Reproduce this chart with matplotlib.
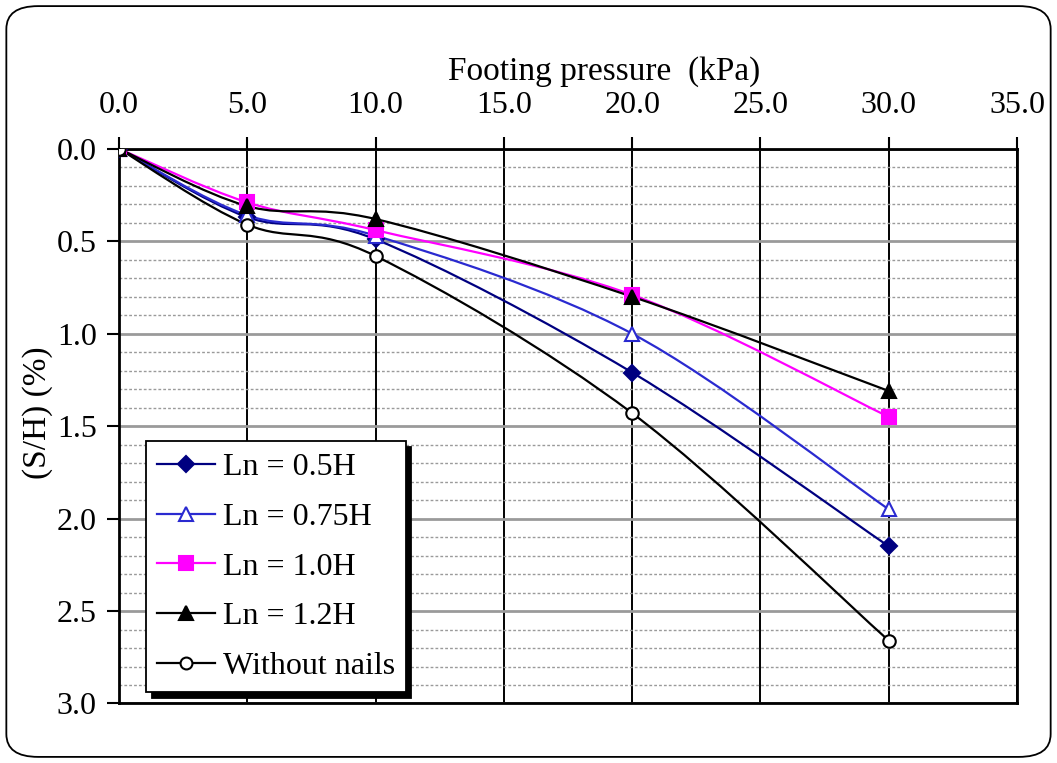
import matplotlib
matplotlib.use('Agg')
import matplotlib.pyplot as plt
import numpy as np
from matplotlib.path import Path
from matplotlib.patches import PathPatch, FancyBboxPatch
from matplotlib.lines import Line2D
from matplotlib.ticker import MultipleLocator, FormatStrFormatter

plt.rcParams['font.family'] = ['Liberation Serif', 'DejaVu Serif']

# footing pressure (kPa)
pressure = [0, 5, 10, 20, 30]
# settlement ratio S/H (%)
ln_05 = [0, 0.37, 0.49, 1.21, 2.15]
ln_075 = [0, 0.36, 0.47, 1.00, 1.95]
ln_10 = [0, 0.29, 0.44, 0.79, 1.45]
ln_12 = [0, 0.31, 0.38, 0.80, 1.31]
no_nails = [0, 0.41, 0.58, 1.43, 2.66]

labels = ['Ln = 0.5H', 'Ln = 0.75H', 'Ln = 1.0H', 'Ln = 1.2H', 'Without nails']
series = [ln_05, ln_075, ln_10, ln_12, no_nails]
colors = ['#000080', '#2a2ad0', '#ff00ff', 'black', 'black']
markers = ['D', '^', 's', '^', 'o']
mfc = ['#000080', 'white', '#ff00ff', 'black', 'white']
msize = [8.5, 10, 10, 10, 9]


def smooth_path(x, y):
    # excel-like smoothed line: cubic bezier through the points
    p = np.column_stack([x, y]).astype(float)
    pts = np.vstack([p[0], p, p[-1]])
    verts = [tuple(p[0])]
    codes = [Path.MOVETO]
    for i in range(1, len(pts) - 2):
        p0, p1, p2, p3 = pts[i - 1], pts[i], pts[i + 1], pts[i + 2]
        c1 = p1 + (p2 - p0) / 6
        c2 = p2 - (p3 - p1) / 6
        verts += [tuple(c1), tuple(c2), tuple(p2)]
        codes += [Path.CURVE4] * 3
    return Path(verts, codes)


fig = plt.figure(figsize=(10.57, 7.63), dpi=100)
ax = fig.add_axes([0.1126, 0.078, 0.8496, 0.727])

# rounded frame round the whole chart
fig.patches.append(FancyBboxPatch((0.006, 0.008), 0.988, 0.984,
                                  boxstyle='round,pad=0,rounding_size=0.03',
                                  transform=fig.transFigure, fill=False,
                                  edgecolor='black', linewidth=1.3))

ax.set_xlim(0, 35)
ax.set_ylim(3.0, 0)
ax.xaxis.set_major_locator(MultipleLocator(5))
ax.yaxis.set_major_locator(MultipleLocator(0.5))
ax.yaxis.set_minor_locator(MultipleLocator(0.1))
ax.xaxis.set_major_formatter(FormatStrFormatter('%.1f'))
ax.yaxis.set_major_formatter(FormatStrFormatter('%.1f'))
ax.xaxis.tick_top()
ax.xaxis.set_label_position('top')
ax.tick_params(axis='both', which='major', labelsize=23, direction='out',
               length=9, width=1.5)
ax.tick_params(axis='x', which='major', pad=12)
ax.tick_params(axis='y', which='major', pad=7)
ax.tick_params(axis='y', which='minor', length=0)

ax.grid(True, axis='x', which='major', color='black', linewidth=1.4)
ax.grid(True, axis='y', which='major', color='#9a9a9a', linewidth=2)
ax.grid(True, axis='y', which='minor', color='#9a9a9a', linewidth=1, linestyle=(0, (2, 1.5)))
ax.set_axisbelow(True)
for s in ax.spines.values():
    s.set_linewidth(2)

for vals, c, m, fc, ms in zip(series, colors, markers, mfc, msize):
    ax.add_patch(PathPatch(smooth_path(pressure, vals), facecolor='none',
                           edgecolor=c, linewidth=1.6, zorder=3))
    ax.plot(pressure, vals, linestyle='none', marker=m, markersize=ms,
            markerfacecolor=fc, markeredgecolor=c, markeredgewidth=1.5, zorder=4)

ax.set_xlabel('Footing pressure  (kPa)', fontsize=24)
ax.xaxis.set_label_coords(0.54, 1.125)
ax.set_ylabel('(S/H) (%)', fontsize=24)
ax.yaxis.set_label_coords(-0.073, 0.525)

handles = [Line2D([], [], color=c, marker=m, markersize=ms * 0.95, markerfacecolor=fc,
                  markeredgecolor=c, markeredgewidth=1.5, linewidth=1.6)
           for c, m, fc, ms in zip(colors, markers, mfc, msize)]
leg = ax.legend(handles, labels, loc='lower left', bbox_to_anchor=(0.03, 0.02),
                fontsize=23, frameon=True, fancybox=False,
                shadow={'color': 'black', 'alpha': 1, 'ox': 4, 'oy': -4},
                edgecolor='black', handlelength=1.8, handletextpad=0.25,
                labelspacing=0.64, borderpad=0.35, borderaxespad=0)
leg.get_frame().set_linewidth(1.3)
leg.set_zorder(5)

fig.savefig('out.png', dpi=100)
